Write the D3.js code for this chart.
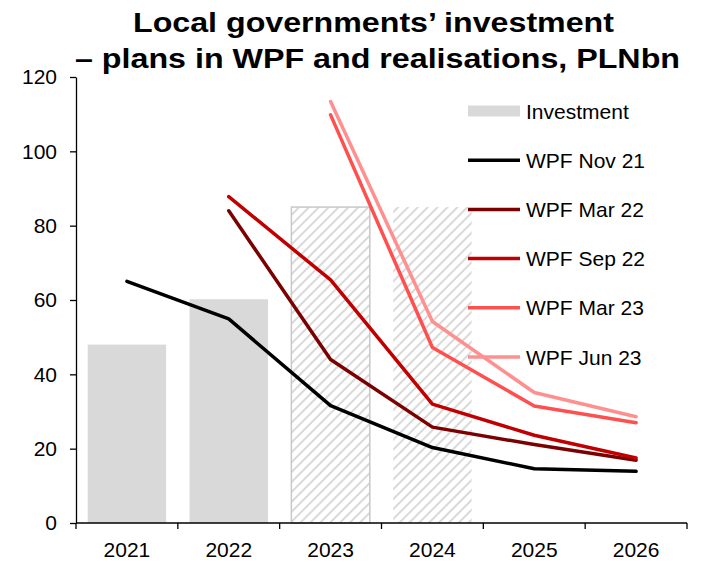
<!DOCTYPE html>
<html>
<head>
<meta charset="utf-8">
<script src="https://cdn.jsdelivr.net/npm/d3@7"></script>
<style>
  html, body { margin: 0; padding: 0; background: #fff; }
  svg { display: block; font-family: "Liberation Sans", Arial, sans-serif; }
</style>
</head>
<body>
<svg id="chart" width="705" height="568"></svg>
<script>
// Years on the category axis
const years = ["2021", "2022", "2023", "2024", "2025", "2026"];

// Realised / expected local government investment (PLN bn)
const investment = [48, 60.2, 85, 85, null, null];
// Bars drawn hatched (estimates)
const hatchedYears = ["2023", "2024"];
const outlinedYears = ["2023"];

// WPF plan vintages (PLN bn)
const wpfNov21 = [65, 54.9, 31.6, 20.3, 14.6, 13.9];
const wpfMar22 = [null, 84, 44, 25.8, 21.1, 16.9];
const wpfSep22 = [null, 87.8, 65.4, 32, 23.6, 17.5];
const wpfMar23 = [null, null, 109.8, 47.2, 31.5, 27];
const wpfJun23 = [null, null, 113.4, 54.2, 35.1, 28.6];

const seriesNames = ["WPF Nov 21", "WPF Mar 22", "WPF Sep 22", "WPF Mar 23", "WPF Jun 23"];
const seriesValues = [wpfNov21, wpfMar22, wpfSep22, wpfMar23, wpfJun23];
const seriesColors = ["#000000", "#7b0000", "#c00000", "#ff5050", "#ff9090"];

const yTicks = [0, 20, 40, 60, 80, 100, 120];

const svg = d3.select("#chart");
const margin = { left: 76, right: 18, top: 77, bottom: 45 };
const W = 705, H = 568;

const x = d3.scaleBand().domain(years)
  .range([margin.left, W - margin.right])
  .paddingInner(0.23).paddingOuter(0.115);
const xAxisBand = d3.scaleBand().domain(years).range([margin.left, W - margin.right]);
const y = d3.scaleLinear().domain([0, 120]).range([H - margin.bottom, margin.top]);

// Hatch pattern for estimated bars
const defs = svg.append("defs");
const pat = defs.append("pattern")
  .attr("id", "hatch")
  .attr("patternUnits", "userSpaceOnUse")
  .attr("width", 7).attr("height", 7)
  .attr("patternTransform", "rotate(45)");
pat.append("rect").attr("width", 7).attr("height", 7).attr("fill", "#fff");
pat.append("line")
  .attr("x1", 0).attr("y1", 0).attr("x2", 0).attr("y2", 7)
  .attr("stroke", "#d9d9d9").attr("stroke-width", 4);

// Title (two lines, wide bold face)
const title = svg.append("g")
  .attr("font-weight", "bold")
  .attr("font-size", 27)
  .attr("fill", "#000");
title.append("text").attr("x", 133).attr("y", 32)
  .attr("textLength", 481).attr("lengthAdjust", "spacingAndGlyphs")
  .text("Local governments’ investment");
title.append("text").attr("x", 75).attr("y", 68)
  .attr("textLength", 605).attr("lengthAdjust", "spacingAndGlyphs")
  .text("– plans in WPF and realisations, PLNbn");

// Bars
const barData = years.map((yr, i) => ({ year: yr, value: investment[i] })).filter(d => d.value != null);
svg.append("g").selectAll("rect")
  .data(barData)
  .join("rect")
  .attr("x", d => x(d.year))
  .attr("width", x.bandwidth())
  .attr("y", d => y(d.value))
  .attr("height", d => y(0) - y(d.value))
  .attr("fill", d => hatchedYears.includes(d.year) ? "url(#hatch)" : "#d9d9d9")
  .attr("stroke", d => outlinedYears.includes(d.year) ? "#c8c8c8" : "none")
  .attr("stroke-width", 1.5);

// Lines
const line = d3.line()
  .defined(d => d.v != null)
  .x(d => xAxisBand(d.year) + xAxisBand.bandwidth() / 2)
  .y(d => y(d.v));

svg.append("g").selectAll("path")
  .data(seriesValues.map((vals, i) => ({ name: seriesNames[i], color: seriesColors[i],
    pts: years.map((yr, j) => ({ year: yr, v: vals[j] })) })))
  .join("path")
  .attr("d", d => line(d.pts))
  .attr("fill", "none")
  .attr("stroke", d => d.color)
  .attr("stroke-width", 3.5)
  .attr("stroke-linejoin", "round")
  .attr("stroke-linecap", "round");

// Y axis
const yAxis = svg.append("g")
  .attr("transform", `translate(${margin.left},0)`)
  .call(d3.axisLeft(y).tickValues(yTicks).tickSize(6).tickPadding(13).tickSizeOuter(0));
yAxis.select(".domain").attr("stroke", "#000").attr("stroke-width", 1.3);
yAxis.selectAll(".tick line").attr("stroke", "#000").attr("stroke-width", 1.3);
yAxis.selectAll(".tick text").attr("font-size", 21).attr("fill", "#000")
  .attr("font-family", "Liberation Sans, Arial, sans-serif");

// X axis: ticks sit on category boundaries
const xAxisG = svg.append("g").attr("transform", `translate(0,${y(0)})`);
xAxisG.append("line")
  .attr("x1", margin.left).attr("x2", W - margin.right)
  .attr("y1", 0).attr("y2", 0)
  .attr("stroke", "#000").attr("stroke-width", 1.3);
const bounds = years.map(yr => xAxisBand(yr)).concat([xAxisBand(years[years.length - 1]) + xAxisBand.bandwidth()]);
xAxisG.selectAll("line.tk").data(bounds).join("line")
  .attr("class", "tk")
  .attr("x1", d => d).attr("x2", d => d)
  .attr("y1", 0).attr("y2", 6)
  .attr("stroke", "#000").attr("stroke-width", 1.3);
xAxisG.selectAll("text").data(years).join("text")
  .attr("x", d => xAxisBand(d) + xAxisBand.bandwidth() / 2)
  .attr("y", 34)
  .attr("text-anchor", "middle")
  .attr("font-size", 21)
  .attr("fill", "#000")
  .text(d => d);

// Legend
const legend = svg.append("g");
const legendX = 467, legendY0 = 111, legendStep = 49.2;
legend.append("rect")
  .attr("x", legendX + 1).attr("y", legendY0 - 5.5)
  .attr("width", 52).attr("height", 11)
  .attr("fill", "#d9d9d9");
legend.append("text")
  .attr("x", legendX + 59).attr("y", legendY0 + 7.5)
  .attr("font-size", 21).attr("fill", "#000")
  .text("Investment");
seriesNames.forEach((name, i) => {
  const ly = legendY0 + legendStep * (i + 1);
  legend.append("line")
    .attr("x1", legendX + 1).attr("x2", legendX + 53)
    .attr("y1", ly).attr("y2", ly)
    .attr("stroke", seriesColors[i]).attr("stroke-width", 3.5);
  legend.append("text")
    .attr("x", legendX + 59).attr("y", ly + 7.5)
    .attr("font-size", 21).attr("fill", "#000")
    .text(name);
});
</script>
</body>
</html>
